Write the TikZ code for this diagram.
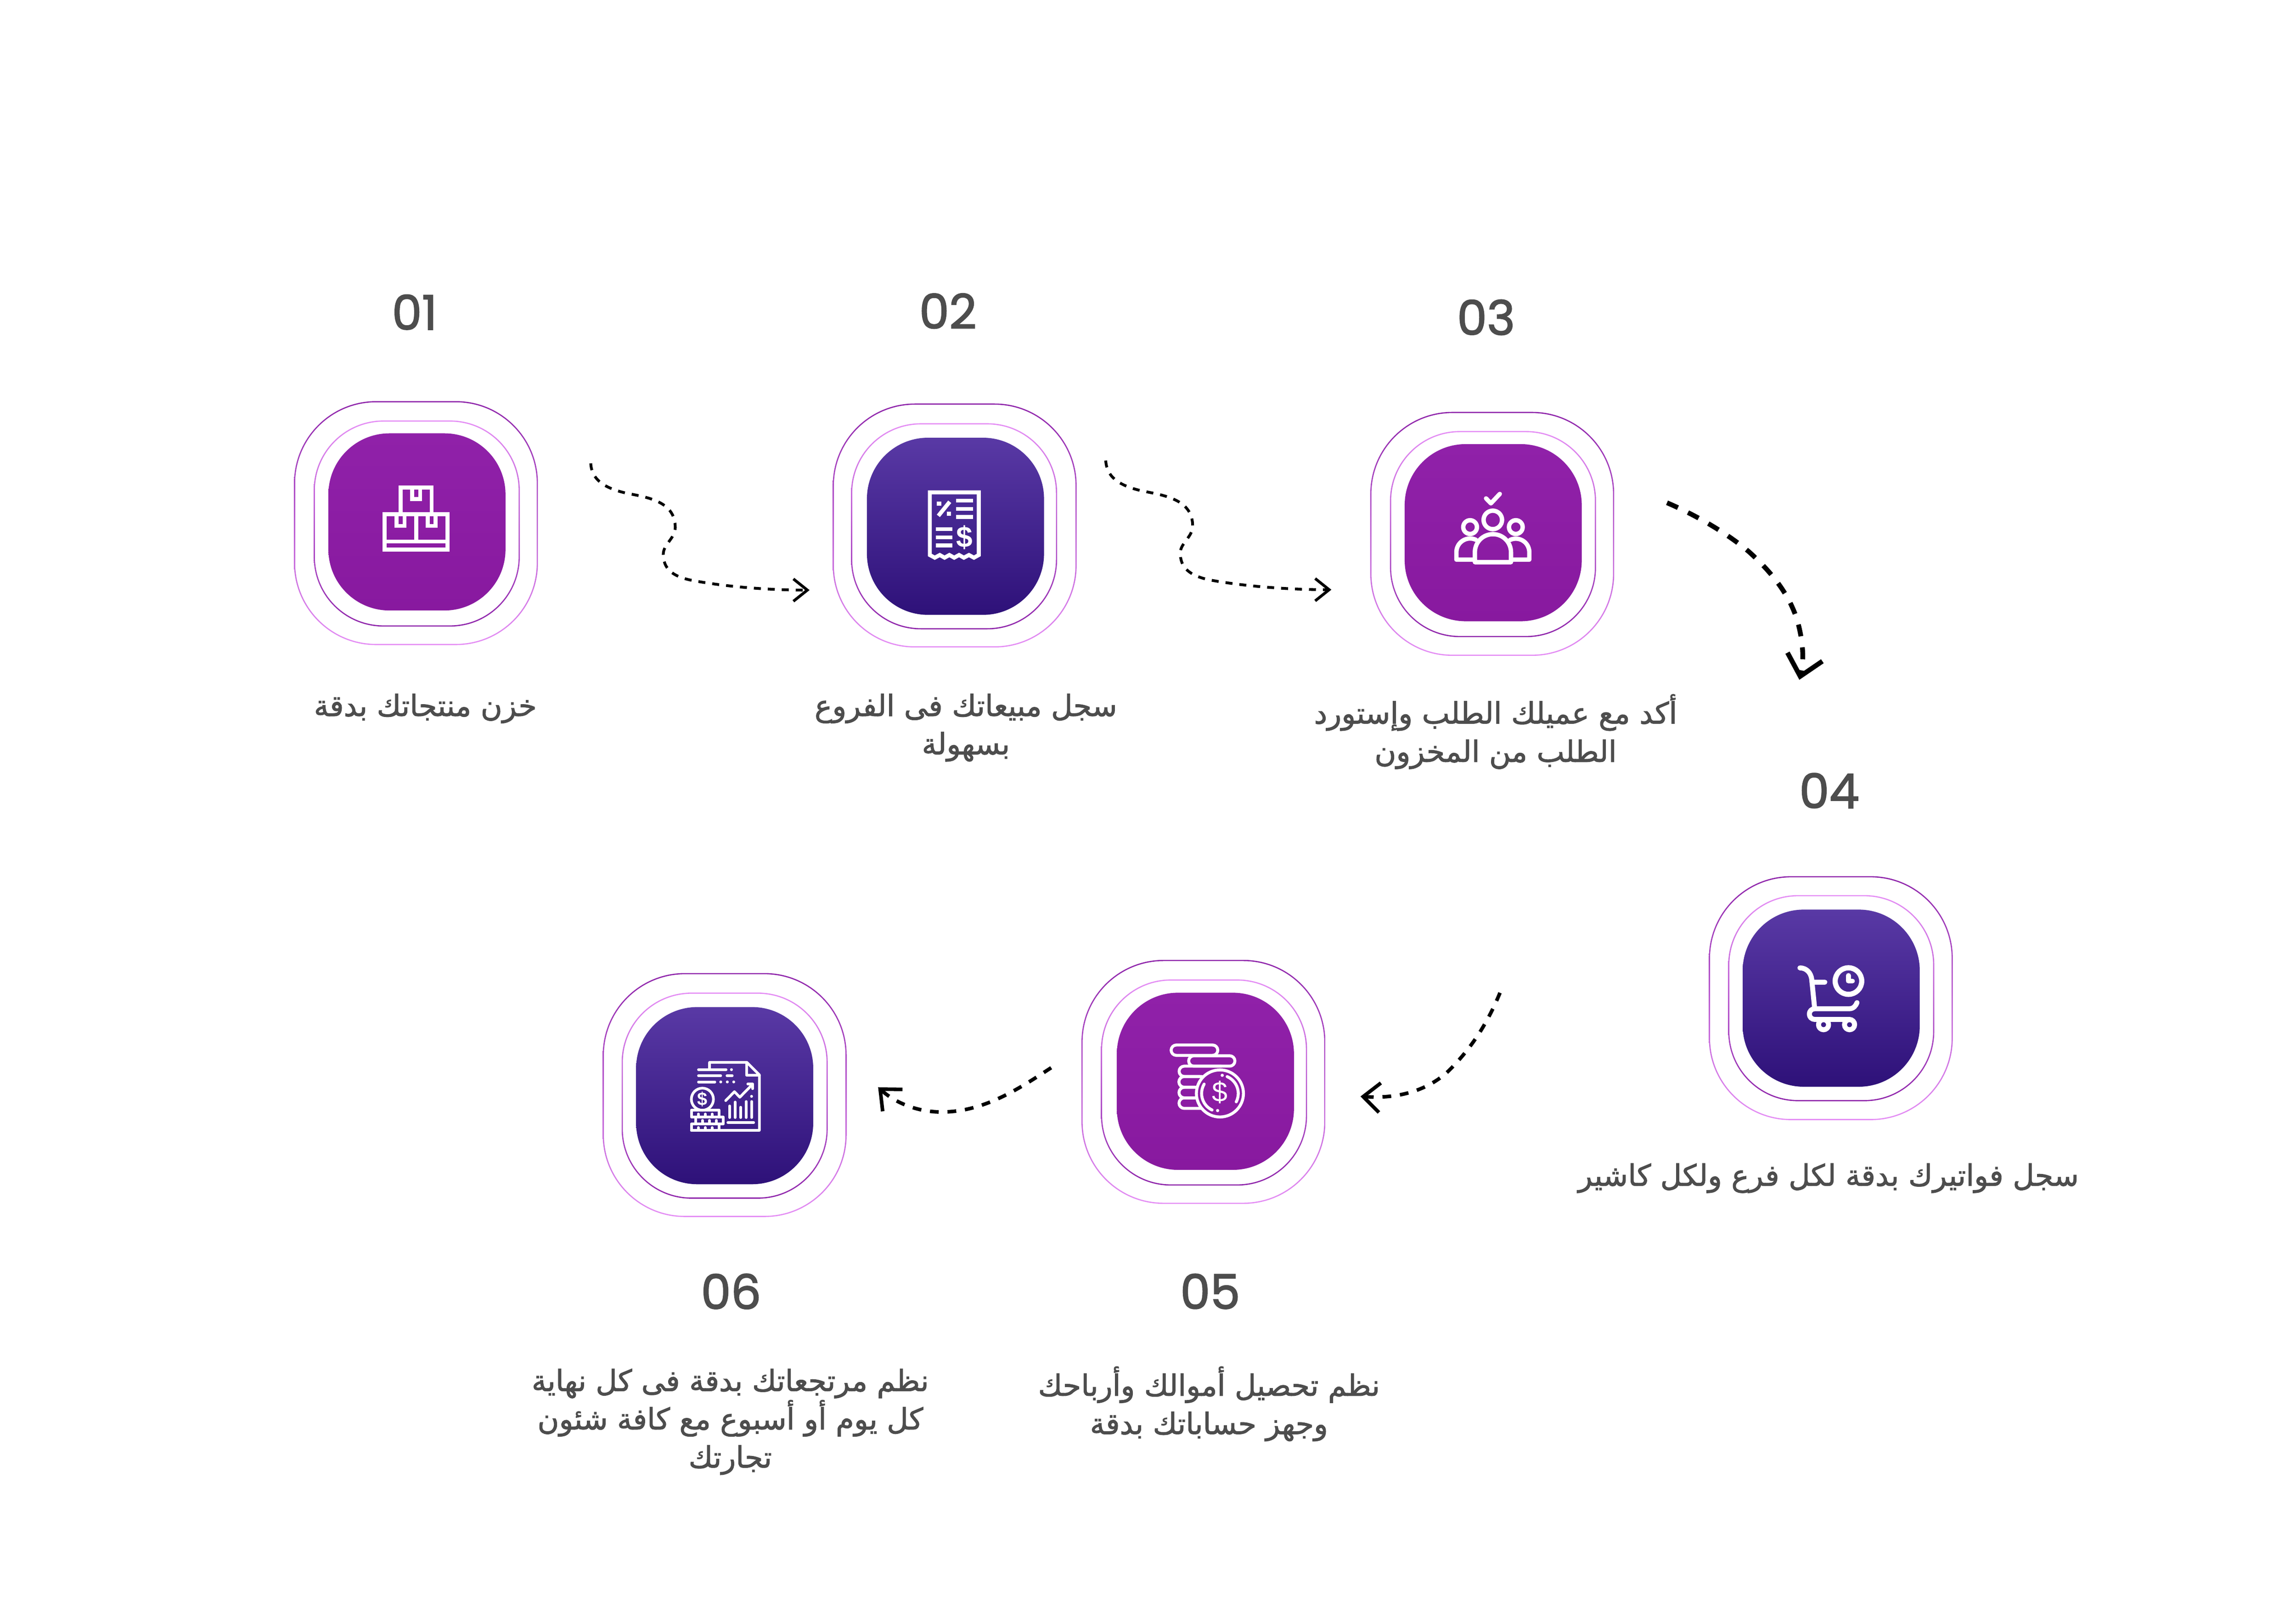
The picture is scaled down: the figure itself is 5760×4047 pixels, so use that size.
\documentclass[tikz,border=0pt]{standalone}
\usepackage{fontspec}
\usepackage{xcolor}
\usetikzlibrary{arrows.meta}
\TeXXeTstate=1
\newfontfamily\arabicfont[Script=Arabic,FakeBold=1.6]{DejaVu Sans}
\newfontfamily\numfont[FakeBold=2]{Poppins}
\newfontfamily\glyphfont{Liberation Sans}
\definecolor{ringdark}{HTML}{8E24AA}
\definecolor{ringlight}{HTML}{E58FF5}
\definecolor{purpletop}{HTML}{9021A9}
\definecolor{purplebot}{HTML}{88199F}
\definecolor{bluetop}{HTML}{5939A5}
\definecolor{bluebot}{HTML}{2E1179}
\definecolor{labelgray}{HTML}{4D4D4D}
\newcommand{\artxt}[1]{\beginR #1\endR}
% one ring: centre x, centre y, half size, corner radius, top colour, bottom colour
\newcommand{\gradring}[6]{%
  \shade[even odd rule,top color=#5,bottom color=#6]
    [rounded corners=#4*0.01cm] ({#1-#3},{#2-#3}) rectangle ({#1+#3},{#2+#3})
    [rounded corners=(#4-3)*0.01cm] ({#1-#3+3},{#2-#3+3}) rectangle ({#1+#3-3},{#2+#3-3});}
\tikzset{
  stepbox/.style={minimum size=4.44cm,inner sep=0pt,outer sep=0pt,rounded corners=1.53cm},
  purplebox/.style={stepbox,top color=purpletop,bottom color=purplebot},
  bluebox/.style={stepbox,top color=bluetop,bottom color=bluebot},
  numlabel/.style={inner sep=0pt,text=labelgray,font=\numfont\fontsize{34}{41}\selectfont},
  arlabel/.style={inner sep=0pt,align=center,text=labelgray,font=\arabicfont\fontsize{21}{27.3}\selectfont},
  iconsquare/.style={draw=white,line width=0.1cm,line cap=butt,line join=miter},
  iconround/.style={draw=white,line width=#1,line cap=round,line join=round},
  flowthin/.style={draw=black,line width=0.07cm,dash pattern=on 0.175cm off 0.175cm,
    -{Straight Barb[length=0.35cm,width=0.56cm]}},
  flowmid/.style={draw=black,line width=0.09cm,dash pattern=on 0.22cm off 0.22cm,
    -{Straight Barb[length=0.42cm,width=0.74cm]}},
  flowthick/.style={draw=black,line width=0.12cm,dash pattern=on 0.3cm off 0.28cm,
    -{Straight Barb[length=0.5cm,width=0.9cm]}},
}
\begin{document}
\begin{tikzpicture}[x=0.01cm,y=-0.01cm]
\useasboundingbox[fill=white] (0,0) rectangle (5760,4047);
% rings
\gradring{1043.5}{1312}{306}{206}{ringdark}{ringlight}
\gradring{1045.5}{1313}{258.5}{175}{ringlight}{ringdark}
\gradring{2395}{1318}{306}{206}{ringdark}{ringlight}
\gradring{2393.5}{1320}{258.5}{175}{ringlight}{ringdark}
\gradring{3743.5}{1339}{306}{206}{ringdark}{ringlight}
\gradring{3745.5}{1339.5}{258.5}{175}{ringlight}{ringdark}
\gradring{4593}{2503.5}{306}{206}{ringdark}{ringlight}
\gradring{4594}{2503.5}{258.5}{175}{ringlight}{ringdark}
\gradring{3019}{2713.5}{306}{206}{ringdark}{ringlight}
\gradring{3020.5}{2715}{258.5}{175}{ringlight}{ringdark}
\gradring{1818}{2746.5}{306}{206}{ringdark}{ringlight}
\gradring{1818}{2748}{258.5}{175}{ringlight}{ringdark}
% steps
\node[purplebox] (stepA) at (1046,1309) {};
\node[bluebox] (stepB) at (2397,1320) {};
\node[purplebox] (stepC) at (3746,1336) {};
\node[bluebox] (stepD) at (4594,2503.5) {};
\node[purplebox] (stepE) at (3024,2712) {};
\node[bluebox] (stepF) at (1818,2748) {};
% numbers
\node[numlabel] (numA) at (1040,783) {01};
\node[numlabel] (numB) at (2378,780) {02};
\node[numlabel] (numC) at (3728,796) {03};
\node[numlabel] (numD) at (4589,1983) {04};
\node[numlabel] (numE) at (3036,3239) {05};
\node[numlabel] (numF) at (1834,3239) {06};
% labels
\node[arlabel] (textA) at (1067,1777) {\artxt{خزن منتجاتك بدقة}};
\node[arlabel] (textB) at (2423,1825) {\artxt{سجل مبيعاتك فى الفروع}\\\artxt{بسهولة}};
\node[arlabel] (textC) at (3752,1835) {\artxt{أكد مع عميلك الطلب وإستورد}\\\artxt{الطلب من المخزون}};
\node[arlabel] (textD) at (4587,2955) {\artxt{سجل فواتيرك بدقة لكل فرع ولكل كاشير}};
\node[arlabel] (textE) at (3033,3521) {\artxt{نظم تحصيل أموالك وأرباحك}\\\artxt{وجهز حساباتك بدقة}};
\node[arlabel] (textF) at (1832,3566) {\artxt{نظم مرتجعاتك بدقة فى كل نهاية}\\\artxt{كل يوم أو أسبوع مع كافة شئون}\\\artxt{تجارتك}};
% icon 01, boxes
\draw[iconsquare] (1005,1290) -- (1005,1223) -- (1083,1223) -- (1083,1290);
\draw[iconsquare] (1034,1223) -- (1034,1252) -- (1054,1252) -- (1054,1223);
\draw[iconsquare] (965,1290) rectangle (1123,1378);
\draw[iconsquare] (965,1358) -- (1123,1358);
\draw[iconsquare] (1044,1290) -- (1044,1358);
\draw[iconsquare] (995,1290) -- (995,1319) -- (1015,1319) -- (1015,1290);
\draw[iconsquare] (1073,1290) -- (1073,1319) -- (1093,1319) -- (1093,1290);
% icon 02, receipt
\draw[iconsquare] (2332.6,1392) -- (2332.6,1235) -- (2455.4,1235) -- (2455.4,1392) -- (2443.3,1398.7)
  -- (2430.8,1392) -- (2418,1398.7) -- (2406,1392) -- (2393.8,1398.7) -- (2381.7,1392)
  -- (2369.6,1398.7) -- (2357.6,1392) -- (2345,1398.7) -- cycle;
\fill[white] (2350.4,1258) rectangle (2361.2,1268.8);
\fill[white] (2375.4,1283) rectangle (2386.2,1293.8);
\draw[iconsquare] (2382.6,1258.5) -- (2354,1293.8);
\draw[iconsquare] (2399,1255.8) -- (2440.6,1255.8);
\draw[iconsquare] (2399,1276.3) -- (2440.6,1276.3);
\draw[iconsquare] (2399,1296.4) -- (2440.6,1296.4);
\draw[iconsquare] (2348,1327.2) -- (2389,1327.2);
\draw[iconsquare] (2348,1347.8) -- (2389,1347.8);
\draw[iconsquare] (2348,1368.3) -- (2389,1368.3);
\node[inner sep=0pt,text=white,font=\glyphfont\bfseries\fontsize{21}{25}\selectfont] (dollarB) at (2419.6,1347.8) {\$};
% icon 03, people
\draw[iconround=0.11cm] (3728,1250) -- (3740.2,1262.5) -- (3762.5,1238.8);
\draw[iconround=0.11cm] (3745,1304) circle (23.2);
\draw[iconround=0.11cm] (3688,1322) circle (17.2);
\draw[iconround=0.11cm] (3802.7,1322) circle (17.2);
\draw[iconround=0.11cm] (3700,1410) -- (3700,1385) arc (180:360:45.3) -- (3790.6,1410) -- cycle;
\draw[iconround=0.11cm] (3700,1403.6) -- (3653.6,1403.6) -- (3653.6,1385) arc (180:295:34.4);
\draw[iconround=0.11cm] (3791,1403.6) -- (3836.6,1403.6) -- (3836.6,1385) arc (0:-115:34);
% icon 04, cart
\draw[iconround=0.125cm] (4515.4,2427.6) .. controls (4532,2427.6) and (4543,2440) .. (4545,2456) -- (4552.4,2529.4);
\draw[iconround=0.125cm] (4545.7,2463.3) -- (4577.9,2463.3);
\draw[iconround=0.13cm] (4637.2,2460.6) circle (33.3);
\draw[iconround=0.125cm] (4637.2,2446.8) -- (4637.2,2460.6) -- (4647,2460.6);
\draw[iconround=0.125cm] (4658.7,2514.6) .. controls (4656,2522) and (4650,2530) .. (4639.5,2530)
  -- (4552.4,2530) arc (270:90:13.4) -- (4639.5,2556.8) .. controls (4647,2556.8) and (4652.6,2563) .. (4652.6,2570);
\draw[iconround=0.125cm] (4574.7,2570) circle (12.7);
\draw[iconround=0.125cm] (4639.9,2570) circle (12.7);
% icon 05, coins
\draw[iconround=0.075cm,rounded corners=0.13cm] (2938,2621) rectangle (3055,2647);
\draw[iconround=0.075cm,rounded corners=0.13cm] (2982,2648) rectangle (3098,2674);
\draw[iconround=0.075cm] (3015,2700) -- (2971,2700) arc (90:270:13) -- (3064,2674);
\draw[iconround=0.075cm] (3000,2727) -- (2971,2727) arc (90:270:13.5) -- (3010,2700);
\draw[iconround=0.075cm] (2998,2753.6) -- (2971,2753.6) arc (90:270:13.3) -- (2998,2727);
\draw[iconround=0.075cm] (3015,2780) -- (2971,2780) arc (90:270:13.2) -- (3000,2753.6);
\draw[iconround=0.075cm] (3060.4,2742.5) circle (59);
\draw[iconround=0.075cm] (3078.6,2700.3) arc (-66.7:27:46);
\draw[iconround=0.075cm] (3020.8,2719.1) arc (210.5:115.5:46);
\fill[white] (3066.2,2697) circle (4);
\fill[white] (3054.6,2785.4) circle (4);
\node[inner sep=0pt,text=white,font=\glyphfont\fontsize{20}{24}\selectfont] (dollarE) at (3060.4,2740) {\$};
% icon 06, report
\draw[iconround=0.067cm] (1780,2682.8) -- (1780,2664.5) -- (1873.8,2664.5) -- (1905,2695.7) -- (1905,2835) -- (1734.5,2835);
\draw[iconround=0.067cm] (1872.9,2664.5) -- (1872.9,2696.6) -- (1905,2696.6);
\draw[iconround=0.067cm] (1752.3,2682.8) -- (1821.5,2682.8);
\draw[iconround=0.067cm] (1752.3,2698) -- (1808,2698);
\draw[iconround=0.067cm] (1823.8,2698) -- (1837,2698);
\draw[iconround=0.067cm] (1752.3,2713.6) -- (1793.4,2713.6);
\fill[white] (1835,2682.8) circle (3.6);
\fill[white] (1808.1,2713.6) circle (3.6);
\fill[white] (1824.6,2713.6) circle (3.6);
\fill[white] (1840.7,2713.6) circle (3.6);
\draw[iconround=0.067cm] (1820.6,2760.4) -- (1842.5,2738) -- (1855.9,2752) -- (1887.1,2720.3);
\draw[iconround=0.067cm] (1876,2719) -- (1888,2719) -- (1888,2730.5);
\fill[white] (1885.4,2749.7) circle (3.6);
\draw[iconround=0.067cm] (1830.4,2773.8) -- (1830.4,2802.9);
\draw[iconround=0.067cm] (1844.3,2764) -- (1844.3,2802.9);
\draw[iconround=0.067cm] (1858.1,2777) -- (1858.1,2802.9);
\draw[iconround=0.067cm] (1872,2762.7) -- (1872,2802.9);
\draw[iconround=0.067cm] (1885.4,2762.7) -- (1885.4,2802.9);
\draw[iconround=0.067cm] (1826,2815.4) -- (1890.7,2815.4);
\draw[iconround=0.067cm] (1762.1,2756.9) circle (27.7);
\node[inner sep=0pt,text=white,font=\glyphfont\bfseries\fontsize{13}{16}\selectfont] (dollarF) at (1762.1,2756.9) {\$};
\draw[iconround=0.067cm] (1734.5,2784) rectangle (1803.7,2802);
\draw[iconround=0.067cm] (1745.6,2802) rectangle (1814.8,2818.5);
\draw[iconround=0.067cm] (1734.5,2818.5) rectangle (1803.7,2835);
\draw[iconround=0.067cm] (1751.9,2794) -- (1751.9,2802);
\draw[iconround=0.067cm] (1769.3,2794) -- (1769.3,2802);
\draw[iconround=0.067cm] (1786.3,2794) -- (1786.3,2802);
\draw[iconround=0.067cm] (1762.1,2810) -- (1762.1,2818.5);
\draw[iconround=0.067cm] (1779.6,2810) -- (1779.6,2818.5);
\draw[iconround=0.067cm] (1797,2810) -- (1797,2818.5);
\draw[iconround=0.067cm] (1751.9,2828) -- (1751.9,2835);
\draw[iconround=0.067cm] (1769.3,2828) -- (1769.3,2835);
\draw[iconround=0.067cm] (1786.3,2828) -- (1786.3,2835);
% connector ends
\coordinate (flowAstart) at (1482,1162);
\coordinate (flowAend) at (2031,1480);
\coordinate (flowBstart) at (2774,1155);
\coordinate (flowBend) at (3340,1479);
\coordinate (flowCstart) at (4182,1261);
\coordinate (flowCend) at (4514,1705);
\coordinate (flowDstart) at (3763,2490);
\coordinate (flowDend) at (3413,2750);
\coordinate (flowEstart) at (2637,2678);
\coordinate (flowEend) at (2203,2727);
% connectors
\draw[flowthin] (flowAstart) .. controls (1484,1205) and (1520,1228) .. (1587,1240)
  .. controls (1640,1250) and (1694,1265) .. (1694,1323)
  .. controls (1694,1350) and (1664,1365) .. (1664,1390)
  .. controls (1664,1425) and (1685,1445) .. (1733,1455)
  .. controls (1820,1472) and (1930,1480) .. (flowAend);
\draw[flowthin] (flowBstart) .. controls (2776,1199) and (2812,1222) .. (2881.5,1234.5)
  .. controls (2936,1245) and (2992,1260) .. (2992,1319)
  .. controls (2992,1347) and (2961,1362) .. (2961,1387)
  .. controls (2961,1423) and (2983,1443) .. (3032,1454)
  .. controls (3122,1471) and (3236,1479) .. (flowBend);
\draw[flowthick] (flowCstart) .. controls (4250,1290) and (4330,1335) .. (4387.7,1384)
  .. controls (4450,1440) and (4495,1500) .. (4512,1568)
  .. controls (4525,1620) and (4525,1660) .. (flowCend);
\draw[flowmid] (flowDstart) .. controls (3730,2570) and (3690,2630) .. (3635,2685)
  .. controls (3590,2728) and (3520,2757) .. (flowDend);
\draw[flowmid] (flowEstart) .. controls (2560,2728) and (2470,2789) .. (2362,2789)
  .. controls (2300,2789) and (2245,2765) .. (flowEend);
\end{tikzpicture}
\end{document}
